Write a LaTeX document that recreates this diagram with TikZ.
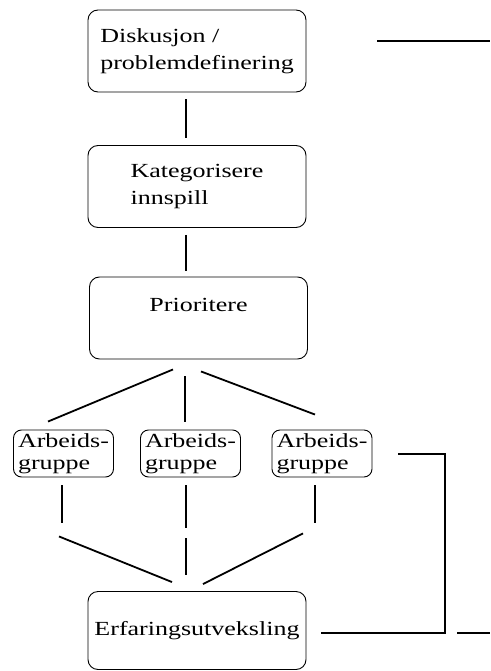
\documentclass[tikz,border=0pt]{standalone}
\usepackage{fontspec}
\setmainfont[FakeStretch=1.3]{Liberation Serif}
\usetikzlibrary{calc}
\begin{document}
\begin{tikzpicture}[x=1pt,y=-1pt,
                        stepbox/.style = {draw,rounded corners=10pt,line width=0.9pt,align=left,inner sep=0pt,
                            minimum width=218pt,minimum height=82pt,font=\fontsize{20}{27}\selectfont},
                        groupbox/.style = {draw,rounded corners=8pt,line width=0.9pt,align=left,inner sep=0pt,
                            minimum width=100pt,minimum height=47pt,font=\fontsize{20}{22}\selectfont},
                        link/.style = {line width=1.8pt}]
                        \useasboundingbox (0,0) rectangle (490,671);

                        \node[stepbox] (disk) at (197,51) {Diskusjon /\\problemdefinering};
                        \node[stepbox] (kat) at (197,186.5) {Kategorisere\\innspill};
                        \node[stepbox] (prio) at (198.5,318) {Prioritere\\ \mbox{}};

                        \node[groupbox] (ab1) at (63.5,453.5) {Arbeids-\\gruppe};
                        \node[groupbox] (ab2) at (190.5,453.5) {Arbeids-\\gruppe};
                        \node[groupbox] (ab3) at (322,453.5) {Arbeids-\\gruppe};

                        \node[stepbox,minimum height=78pt] (erf) at (197,630.5) {Erfaringsutveksling};

                        \coordinate (topend) at (490,41);
                        \coordinate (bend) at (445,633);
                        \coordinate (out) at (490,633);

                        \draw[link] ($(disk.south)+(-11,7)$) -- ($(kat.north)+(-11,-7)$);
                        \draw[link] ($(kat.south)+(-11,7)$) -- ($(prio.north)+(-12.5,-6)$);

                        \draw[link] ($(prio.south)+(-25.5,10)$) -- ($(ab1.north)+(-15.5,-8)$);
                        \draw[link] ($(prio.south)+(-13.5,17)$) -- ($(ab2.north)+(-5.5,-8)$);
                        \draw[link] ($(prio.south)+(2.5,12)$) -- ($(ab3.north)+(-7,-15)$);

                        \draw[link] ($(ab1.south)+(-1.5,8)$) -- +(0,38);
                        \draw[link] ($(ab1.south)+(-4.5,59)$) -- ($(erf.north)+(-25,-9)$);
                        \draw[link] ($(ab2.south)+(-4.5,8)$) -- +(0,43);
                        \draw[link] ($(ab2.south)+(-4.5,61)$) -- ($(erf.north)+(-11,-16)$);
                        \draw[link] ($(ab3.south)+(-7,8)$) -- +(0,38);
                        \draw[link] ($(ab3.south)+(-19,56)$) -- ($(erf.north)+(6,-7)$);

                        %\draw[link] (disk.east) -- (topend);
                        \draw[link] ($(disk.east)+(71,-10)$) -- (topend);
                        \draw[link] ($(ab3.east)+(26,0.5)$) -| (bend) -- ($(erf.east)+(15,2.5)$);
                        \draw[link] ($(bend)+(12,0)$) -- (out);
                    \end{tikzpicture}
\end{document}
